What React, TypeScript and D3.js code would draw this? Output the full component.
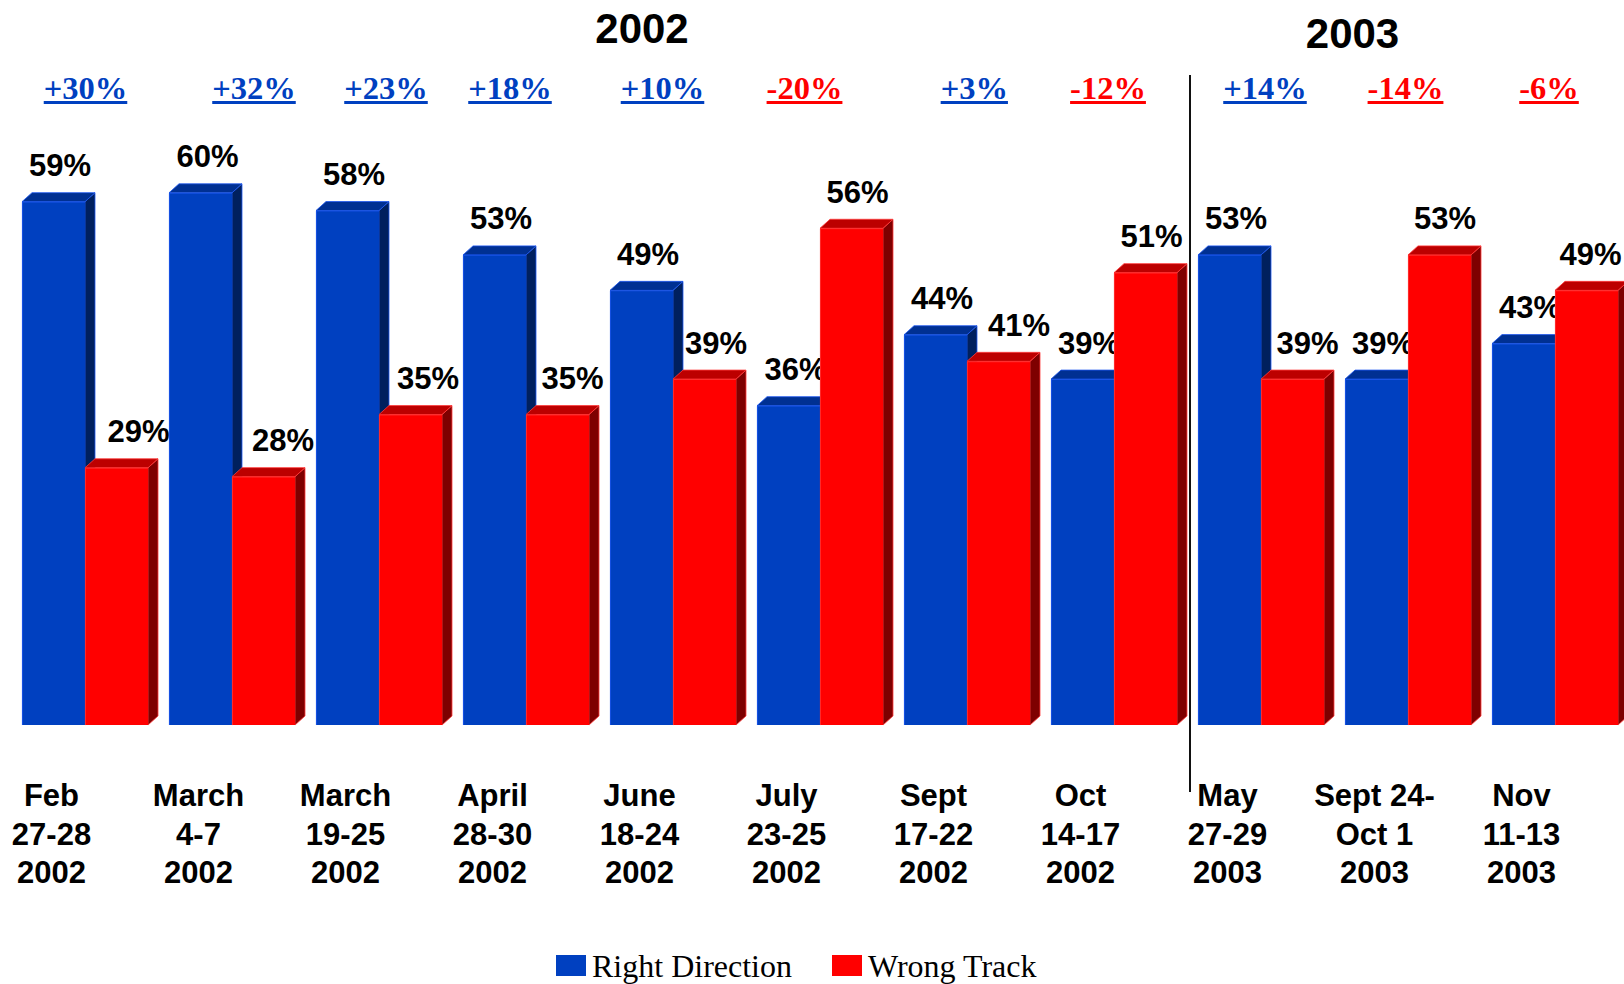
import React, { useEffect, useRef } from 'react';
import * as d3 from 'd3';

// ---- data ----
const categories: string[][] = [
  ['Feb', '27-28', '2002'],
  ['March', '4-7', '2002'],
  ['March', '19-25', '2002'],
  ['April', '28-30', '2002'],
  ['June', '18-24', '2002'],
  ['July', '23-25', '2002'],
  ['Sept', '17-22', '2002'],
  ['Oct', '14-17', '2002'],
  ['May', '27-29', '2003'],
  ['Sept 24-', 'Oct 1', '2003'],
  ['Nov', '11-13', '2003'],
];
const rightDirection = [59, 60, 58, 53, 49, 36, 44, 39, 53, 39, 43];
const wrongTrack = [29, 28, 35, 35, 39, 56, 41, 51, 39, 53, 49];
const seriesNames = ['Right Direction', 'Wrong Track'];
const yearTitles = ['2002', '2003'];

// ---- layout tweaks (label nudges, px) ----
const changeLabelDx = [0.5, 22, 7, -16, -10.5, -15.5, 7.3, -6, 4, -2.5, -6];
const rightLabelDx = [1.5, 2, 1.5, 1.5, 1.5, 2, 1.5, 1.5, 1.5, 1.5, 1.5];
const wrongLabelDx = [17, 14.5, 12.5, 10, 6.5, 1, 15.5, 1, 10, 0.5, -1];

const W = 1624;
const H = 984;
const BLUE = '#0040C0';
const RED = '#FF0000';

export default function App() {
  const ref = useRef<SVGSVGElement | null>(null);

  useEffect(() => {
    document.body.style.margin = '0';
    document.body.style.overflow = 'hidden';
    const svg = d3.select(ref.current);
    svg.selectAll('*').remove();

    const ids = categories.map((_, i) => String(i));
    const x = d3.scaleBand<string>().domain(ids).range([22, 1618]).paddingInner(21 / 147).paddingOuter(0);
    const xs = d3.scaleBand<string>().domain(['r', 'w']).range([0, x.bandwidth()]);
    const base = 725;
    const y = d3.scaleLinear().domain([0, 100]).range([base, base - 887]);
    const dx = 10, dy = 9;

    const sans = 'Liberation Sans, Arial, sans-serif';
    const serif = 'Liberation Serif, Times New Roman, serif';

    const styles = {
      r: { front: BLUE, top: '#003092', side: '#00205E', stroke: '#1E58F0' },
      w: { front: RED, top: '#BC0000', side: '#7E0000', stroke: '#FF3A3A' },
    };

    const g = svg.append('g');

    const drawBar = (x0: number, v: number, s: typeof styles.r) => {
      const w = xs.bandwidth();
      const yt = y(v);
      const bg = g.append('g');
      bg.append('path')
        .attr('d', `M${x0 + w},${yt} L${x0 + w + dx},${yt - dy} L${x0 + w + dx},${base - dy} L${x0 + w},${base} Z`)
        .attr('fill', s.side).attr('stroke', s.stroke).attr('stroke-width', 0.8);
      bg.append('path')
        .attr('d', `M${x0},${yt} L${x0 + dx},${yt - dy} L${x0 + w + dx},${yt - dy} L${x0 + w},${yt} Z`)
        .attr('fill', s.top).attr('stroke', s.stroke).attr('stroke-width', 0.8);
      bg.append('rect')
        .attr('x', x0).attr('y', yt).attr('width', w).attr('height', base - yt)
        .attr('fill', s.front);
      bg.append('path')
        .attr('d', `M${x0 + 0.4},${base} L${x0 + 0.4},${yt + 0.4} L${x0 + w},${yt + 0.4}`)
        .attr('fill', 'none').attr('stroke', s.stroke).attr('stroke-width', 0.8);
    };

    const drawLabel = (cx: number, v: number) => {
      g.append('text')
        .attr('x', cx).attr('y', y(v) - dy - 16.5)
        .attr('text-anchor', 'middle')
        .attr('font-family', sans).attr('font-weight', 'bold').attr('font-size', 31)
        .attr('fill', '#000')
        .text(`${v}%`);
    };

    ids.forEach((id, i) => {
      const gx = x(id)!;
      const bw = xs.bandwidth();
      const rx = gx + xs('r')!;
      const wx = gx + xs('w')!;
      drawBar(rx, rightDirection[i], styles.r);
      drawLabel(rx + (bw + dx) / 2 + rightLabelDx[i], rightDirection[i]);
      drawBar(wx, wrongTrack[i], styles.w);
      drawLabel(wx + (bw + dx) / 2 + wrongLabelDx[i], wrongTrack[i]);
    });

    // category labels
    ids.forEach((id, i) => {
      const cx = x(id)! + 29.5;
      const t = g.append('text')
        .attr('text-anchor', 'middle')
        .attr('font-family', sans).attr('font-weight', 'bold').attr('font-size', 31)
        .attr('fill', '#000');
      categories[i].forEach((line, k) => {
        t.append('tspan').attr('x', cx).attr('y', 806 + k * 38.5).text(line);
      });
    });

    // net change labels
    ids.forEach((id, i) => {
      const d = rightDirection[i] - wrongTrack[i];
      const txt = `${d > 0 ? '+' : ''}${d}%`;
      const col = d > 0 ? BLUE : RED;
      const cx = x(id)! + xs.bandwidth() + changeLabelDx[i];
      const t = g.append('text')
        .attr('x', cx).attr('y', 99)
        .attr('text-anchor', 'middle')
        .attr('font-family', serif).attr('font-weight', 'bold').attr('font-size', 32.5)
        .attr('fill', col)
        .text(txt);
      const len = (t.node() as SVGTextElement).getComputedTextLength();
      g.append('rect')
        .attr('x', cx - len / 2).attr('y', 101).attr('width', len).attr('height', 3)
        .attr('fill', col);
    });

    // year titles
    const yearX = [642, 1352.5];
    const yearY = [42.5, 47.5];
    yearTitles.forEach((yt, i) => {
      g.append('text')
        .attr('x', yearX[i]).attr('y', yearY[i])
        .attr('text-anchor', 'middle')
        .attr('font-family', sans).attr('font-weight', 'bold').attr('font-size', 42)
        .attr('fill', '#000')
        .text(yt);
    });

    // divider
    const divX = (x(String(7))! + x.bandwidth() + x(String(8))!) / 2 + 2.5;
    g.append('line')
      .attr('x1', divX).attr('x2', divX).attr('y1', 75).attr('y2', 792)
      .attr('stroke', '#111').attr('stroke-width', 2);

    // legend
    const legendItems = [
      { name: seriesNames[0], color: BLUE, x: 556 },
      { name: seriesNames[1], color: RED, x: 832 },
    ];
    legendItems.forEach((it) => {
      g.append('rect').attr('x', it.x).attr('y', 955).attr('width', 30).attr('height', 21).attr('fill', it.color);
      g.append('text')
        .attr('x', it.x + 36).attr('y', 977)
        .attr('font-family', serif).attr('font-size', 32)
        .attr('fill', '#000')
        .text(it.name);
    });
  }, []);

  return (
    <svg
      ref={ref}
      width={W}
      height={H}
      style={{ position: 'absolute', left: 0, top: 0, display: 'block', background: '#fff' }}
    />
  );
}
